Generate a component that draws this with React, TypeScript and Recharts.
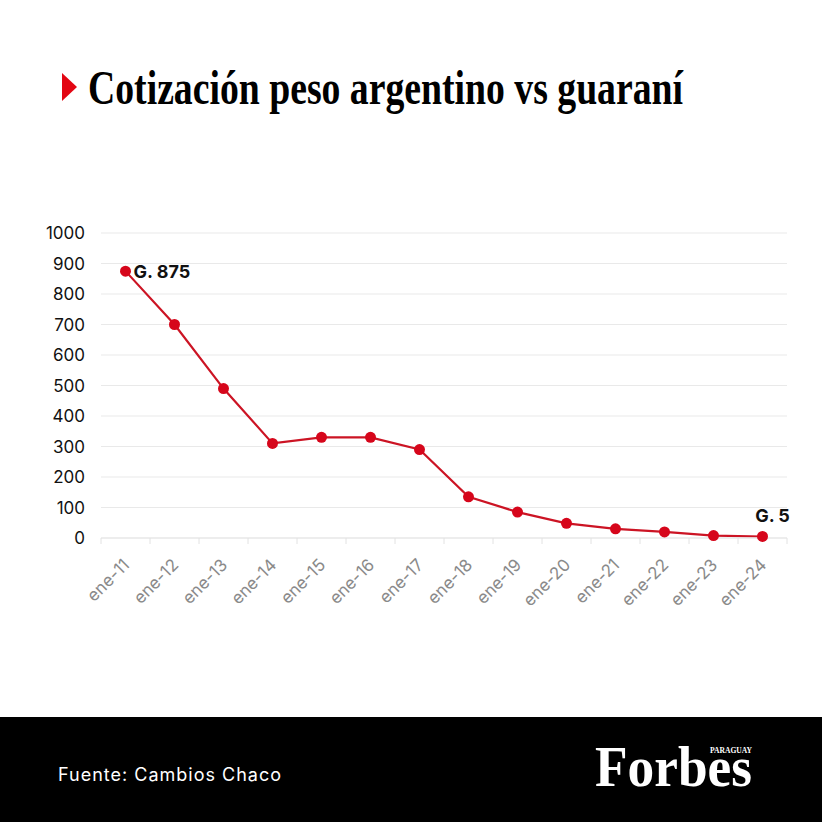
import React from "react";
import { LineChart, Line, XAxis, YAxis, CartesianGrid, LabelList } from "recharts";

const categories = ["ene-11", "ene-12", "ene-13", "ene-14", "ene-15", "ene-16", "ene-17", "ene-18", "ene-19", "ene-20", "ene-21", "ene-22", "ene-23", "ene-24"];
const values = [875, 700, 490, 310, 330, 330, 290, 135, 85, 48, 30, 20, 8, 5];
const yTicks = [0, 100, 200, 300, 400, 500, 600, 700, 800, 900, 1000];
const annotations = ["G. 875", "", "", "", "", "", "", "", "", "", "", "", "", "G. 5"];

const data = categories.map((c, i) => ({ name: c, value: values[i], note: annotations[i] }));

const SANS = "Inter, 'Open Sans', sans-serif";
const SERIF = "'Liberation Serif', 'DejaVu Serif', serif";

const XTick = (props: any) => {
  const { x, payload, index } = props;
  const off = payload && typeof payload.offset === "number" && payload.offset > 0 ? payload.offset : 24.5;
  const axisY = 538;
  return (
    <g>
      <line x1={x - off} x2={x - off} y1={axisY} y2={axisY + 6} stroke="#e2e2e2" />
      {index === categories.length - 1 && (
        <line x1={x + off} x2={x + off} y1={axisY} y2={axisY + 6} stroke="#e2e2e2" />
      )}
      <text
        transform={`translate(${x + 5}, ${axisY + 28}) rotate(-45)`}
        textAnchor="end"
        fontFamily={SANS}
        fontSize={17}
        fill="#8a8a8a"
      >
        {payload.value}
      </text>
    </g>
  );
};

const NoteLabel = (props: any) => {
  const { x, y, value, index } = props;
  if (!value) return null;
  const last = index === categories.length - 1;
  return (
    <text
      x={last ? x + 10 : x + 8}
      y={last ? y - 21 : y}
      dominantBaseline="central"
      textAnchor={last ? "middle" : "start"}
      fontFamily={SANS}
      fontWeight={700}
      fontSize={18}
      fill="#111"
    >
      {value}
    </text>
  );
};

const Title = () => {
  const ref = React.useRef<SVGTextElement>(null);
  const [sx, setSx] = React.useState(0.786);
  React.useLayoutEffect(() => {
    if (ref.current) {
      const w = ref.current.getComputedTextLength();
      if (w > 0) setSx(595 / w);
    }
  }, []);
  return (
    <text
      ref={ref}
      transform={`translate(88, 104) scale(${sx}, 1)`}
      fontFamily={SERIF}
      fontWeight={700}
      fontSize={48}
      fill="#000"
    >
      Cotización peso argentino vs guaraní
    </text>
  );
};

export default function App() {
  return (
    <div style={{ position: "absolute", left: 0, top: 0, width: 822, height: 822, background: "#fff", overflow: "hidden" }}>
      <svg width={822} height={140} style={{ position: "absolute", left: 0, top: 0 }}>
        <polygon points="62,73 77,87 62,101" fill="#e30613" />
        <Title />
      </svg>
      <div style={{ position: "absolute", left: 0, top: 0 }}>
        <LineChart width={822} height={640} data={data} margin={{ top: 233, right: 35, left: 41, bottom: 42 }}>
          <CartesianGrid horizontal={true} vertical={false} stroke="#e9e9e9" />
          <XAxis
            dataKey="name"
            scale="band"
            height={60}
            interval={0}
            axisLine={{ stroke: "#e6e6e6" }}
            tickLine={false}
            tick={<XTick />}
          />
          <YAxis
            width={60}
            domain={[0, 1000]}
            ticks={yTicks}
            interval={0}
            axisLine={false}
            tickLine={false}
            tickMargin={10}
            tick={{ fontFamily: SANS, fontSize: 17, fill: "#111" }}
          />
          <Line
            type="linear"
            dataKey="value"
            stroke="#cc1424"
            strokeWidth={2.2}
            dot={{ r: 5.5, fill: "#d6061b", stroke: "none" }}
            activeDot={false}
            isAnimationActive={false}
          >
            <LabelList dataKey="note" content={<NoteLabel />} />
          </Line>
        </LineChart>
      </div>
      <div style={{ position: "absolute", left: 0, top: 717, width: 822, height: 105, background: "#000" }}>
        <div style={{ position: "absolute", left: 58, top: 46, color: "#fff", fontFamily: SANS, fontSize: 18, letterSpacing: 1, lineHeight: "24px", whiteSpace: "nowrap" }}>
          Fuente: Cambios Chaco
        </div>
        <svg width={822} height={105} style={{ position: "absolute", left: 0, top: 0 }}>
          <text
            x={595}
            y={69}
            fontFamily={SERIF}
            fontWeight={700}
            fontSize={58}
            textLength={157}
            lengthAdjust="spacingAndGlyphs"
            fill="#fff"
          >
            Forbes
          </text>
          <text
            x={710}
            y={36}
            fontFamily={SERIF}
            fontWeight={700}
            fontSize={9}
            textLength={42}
            lengthAdjust="spacingAndGlyphs"
            fill="#fff"
          >
            PARAGUAY
          </text>
        </svg>
      </div>
    </div>
  );
}
